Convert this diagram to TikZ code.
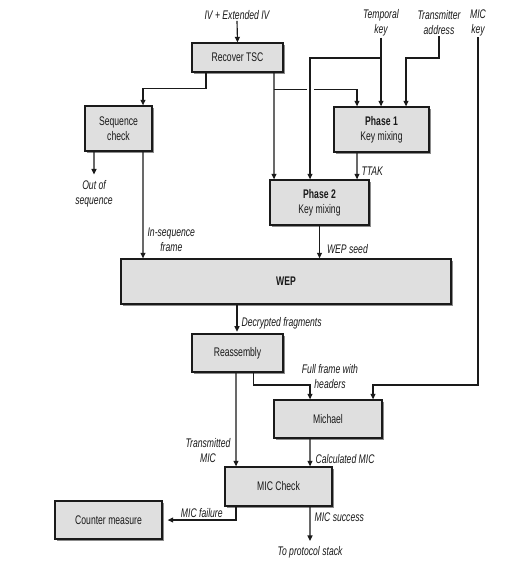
\documentclass[tikz,border=0pt]{standalone}
\usepackage{fontspec}
\setmainfont{Liberation Sans}[FakeStretch=0.69]
\usetikzlibrary{arrows.meta,shadows,calc}
\definecolor{boxfill}{HTML}{DFDFDF}
\definecolor{ink}{HTML}{1A1A1A}
\begin{document}
\begin{tikzpicture}[x=1bp,y=-1bp,
  font=\fontsize{12.5bp}{15bp}\selectfont, text=ink,
  box/.style={draw=ink, line width=1.3bp, fill=boxfill, align=center, inner sep=0pt,
    drop shadow={shadow xshift=2bp, shadow yshift=-2bp, fill=black!45, opacity=1}},
  lab/.style={font=\fontsize{12.5bp}{15bp}\selectfont\itshape, align=center, inner sep=1pt},
  arr/.style={draw=ink, line width=1.15bp, -{Triangle[length=5.5bp,width=5bp]}},
  plain/.style={draw=ink, line width=1.15bp}]
\useasboundingbox[fill=white] (0,0) rectangle (530,568);

% boxes
\node[box, minimum width=91bp, minimum height=29bp] (tsc) at (237.5,57.5) {Recover TSC};
\node[box, minimum width=67bp, minimum height=45bp] (seq) at (118.5,128.5) {Sequence\\check};
\node[box, minimum width=95bp, minimum height=45bp] (ph1) at (381.5,129.5) {\textbf{Phase 1}\\Key mixing};
\node[box, minimum width=99bp, minimum height=45bp] (ph2) at (319.5,202.5) {\textbf{Phase 2}\\Key mixing};
\node[box, minimum width=330bp, minimum height=45bp] (wep) at (286,281.5) {\textbf{WEP}};
\node[box, minimum width=91bp, minimum height=38bp] (reasm) at (237.5,353) {Reassembly};
\node[box, minimum width=108bp, minimum height=38bp] (mich) at (328,419) {Michael};
\node[box, minimum width=107bp, minimum height=39bp] (mic) at (278.5,486.5) {MIC Check};
\node[box, minimum width=107bp, minimum height=38bp] (cm) at (108.5,520) {Counter measure};

% free texts
\node[lab] (iv) at (237,15) {IV + Extended IV};
\node[lab] (tk) at (381,23) {Temporal\\key};
\node[lab] (ta) at (439,23) {Transmitter\\address};
\node[lab] (mk) at (478,23) {MIC\\key};
\node[lab] (oos) at (94,194) {Out of\\sequence};
\node[lab] (proto) at (310,552) {To protocol stack};

\coordinate (keyj) at (0,58);
\coordinate (brA) at ([xshift=36.5bp,yshift=-17bp]tsc.south);
\coordinate (ffj) at (0,385);

% connectors
\draw[arr] (iv.south) -- (tsc.north);
\draw[arr] ([xshift=-31.5bp]tsc.south) -- ++(0,16) -| ([xshift=24.5bp]seq.north);
\draw[arr] ([xshift=36.5bp]tsc.south) -- ([xshift=-45.5bp]ph2.north);
\draw[arr] (brA) -| ([xshift=-24.5bp]ph1.north);
\fill[white] (306.5,86) rectangle (313.5,92);
\draw[arr] (tk.south) -- (tk.south |- ph1.north);
\draw[arr] (tk.south |- keyj) -| ([xshift=-9.5bp]ph2.north);
\draw[arr] (ta.south) -- (ta.south |- keyj) -| ([xshift=24.5bp]ph1.north);
\draw[arr] (mk.south) -- (mk.south |- ffj) -| ([xshift=45bp]mich.north);
\draw[arr] ([xshift=-24.5bp]ph1.south) -- ([xshift=37.5bp]ph2.north)
  node[lab, pos=0.7, anchor=west, xshift=3bp] {TTAK};
\draw[arr] ([xshift=-24.5bp]seq.south) -- ([yshift=5bp]oos.north);
\draw[arr] ([xshift=24.5bp]seq.south) -- ([xshift=-143bp]wep.north)
  node[lab, pos=0.83, anchor=west, xshift=3bp] {In-sequence\\frame};
\draw[arr] (ph2.south) -- (ph2.south |- wep.north)
  node[lab, pos=0.72, anchor=west, xshift=6bp] {WEP seed};
\draw[arr] ([xshift=-49bp]wep.south) -- ([xshift=-49bp,yshift=-27bp]wep.south)
  node[lab, pos=0.7, anchor=west, xshift=3bp] {Decrypted fragments};
\draw[arr] ([xshift=-1.5bp]reasm.south) -- ([xshift=-42.5bp]mic.north)
  node[lab, pos=0.83, anchor=east, xshift=-4bp] {Transmitted\\MIC};
\draw[arr] ([xshift=16bp]reasm.south) -- ([xshift=16bp]reasm.south |- ffj) -| ([xshift=-18bp]mich.north);
\node[lab] (fflab) at (330,377) {Full frame with\\headers};
\draw[arr] ([xshift=-18bp]mich.south) -- ([xshift=31.5bp]mic.north)
  node[lab, pos=0.72, anchor=west, xshift=4bp] {Calculated MIC};
\draw[arr] ([xshift=-42.5bp]mic.south) |- ([xshift=5bp]cm.east)
  node[lab, pos=0.75, anchor=south, yshift=1bp] {MIC failure};
\draw[arr] ([xshift=31.5bp]mic.south) -- ([yshift=4bp]proto.north)
  node[lab, pos=0.3, anchor=west, xshift=3bp] {MIC success};
\end{tikzpicture}
\end{document}
